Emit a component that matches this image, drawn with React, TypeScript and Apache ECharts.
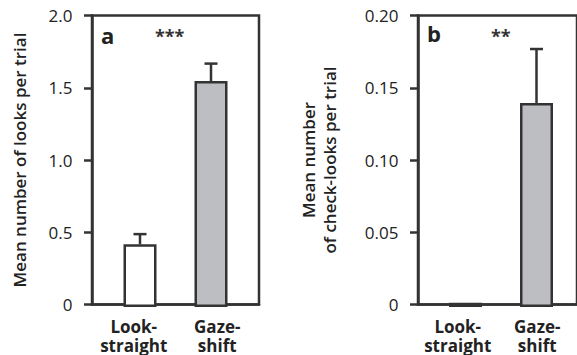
import React, { useEffect, useRef } from "react";
import * as echarts from "echarts";

const categories = ["Look-\nstraight", "Gaze-\nshift"];
const looksMean = [0.43, 1.55];
const looksSE = [0.07, 0.12];
const checkMean = [0.003, 0.14];
const checkSE = [0, 0.037];
const looksTicks = { min: 0, max: 2, interval: 0.5 };
const checkTicks = { min: 0, max: 0.2, interval: 0.05 };
const barFills = ["#ffffff", "#bdbec1"];
const panelLetters = ["a", "b"];
const stars = ["***", "**"];

const INK = "#333333";
const FONT = "'Open Sans', 'DejaVu Sans', sans-serif";

export default function App() {
  const ref = useRef<HTMLDivElement>(null);
  useEffect(() => {
    document.body.style.margin = "0";
    const chart = echarts.init(ref.current!, null, { renderer: "svg" });

    const top = 15.5;
    const height = 291.5;
    const frameGrids = [
      { left: 92, top, width: 167, height, show: true, borderColor: INK, borderWidth: 2.5, backgroundColor: "transparent" },
      { left: 418, top, width: 172, height, show: true, borderColor: INK, borderWidth: 2.5, backgroundColor: "transparent" },
    ];
    const barGrids = [
      { left: 104.5, top, width: 142, height },
      { left: 430, top, width: 142, height },
    ];

    const frameX = (gi: number) => ({
      type: "category",
      gridIndex: gi,
      data: categories,
      axisLine: { show: true, lineStyle: { color: INK, width: 2.5 } },
      axisTick: { show: false },
      axisLabel: {
        interval: 0,
        hideOverlap: false,
        color: "#222",
        fontFamily: FONT,
        fontWeight: "bold",
        fontSize: 17,
        lineHeight: 19,
        margin: 12.5,
      },
    });
    const barX = (gi: number) => ({
      type: "category",
      gridIndex: gi,
      data: categories,
      show: false,
    });
    const frameY = (gi: number, t: any, name: string, digits: number, gap: number) => ({
      type: "value",
      gridIndex: gi,
      min: t.min,
      max: t.max,
      interval: t.interval,
      name,
      nameLocation: "middle",
      nameGap: gap,
      nameTextStyle: {
        color: "#222",
        fontFamily: FONT,
        fontWeight: 600,
        fontSize: 17,
        lineHeight: 21,
      },
      splitLine: { show: false },
      axisLine: { show: true, lineStyle: { color: INK, width: 2.5 } },
      axisTick: { show: true, length: 8, lineStyle: { color: INK, width: 2.5 } },
      axisLabel: {
        color: "#222",
        fontFamily: FONT,
        fontSize: 17,
        margin: 19.5,
        formatter: (v: number) => (v === 0 ? "0" : v.toFixed(digits)),
      },
    });
    const barY = (gi: number, t: any) => ({
      type: "value",
      gridIndex: gi,
      min: t.min,
      max: t.max,
      interval: t.interval,
      show: false,
      splitLine: { show: false },
    });

    const barSeries = (ai: number, means: number[]) => ({
      type: "bar",
      xAxisIndex: ai,
      yAxisIndex: ai,
      barWidth: 33,
      z: 3,
      data: means.map((m, i) => ({
        value: m,
        itemStyle: {
          color: m < 0.01 ? INK : barFills[i],
          borderColor: INK,
          borderWidth: 2.5,
        },
      })),
    });
    const errSeries = (ai: number, means: number[], se: number[]) => ({
      type: "custom",
      xAxisIndex: ai,
      yAxisIndex: ai,
      z: 4,
      data: means.map((m, i) => [i, m, m + se[i]]).filter((d) => d[2] > d[1]),
      renderItem: (params: any, api: any) => {
        const i = api.value(0);
        const base = api.coord([i, api.value(1)]);
        const tip = api.coord([i, api.value(2)]);
        const style = { stroke: INK, lineWidth: 2.5 };
        return {
          type: "group",
          children: [
            { type: "line", shape: { x1: tip[0], y1: base[1], x2: tip[0], y2: tip[1] }, style },
            { type: "line", shape: { x1: tip[0] - 6.5, y1: tip[1], x2: tip[0] + 6.5, y2: tip[1] }, style },
          ],
        };
      },
    });

    chart.setOption({
      animation: false,
      backgroundColor: "#ffffff",
      grid: [frameGrids[0], barGrids[0], frameGrids[1], barGrids[1]],
      xAxis: [frameX(0), barX(1), frameX(2), barX(3)],
      yAxis: [
        frameY(0, looksTicks, "Mean number of looks per trial", 1, 62),
        barY(1, looksTicks),
        frameY(2, checkTicks, "Mean number\nof check-looks per trial", 2, 78),
        barY(3, checkTicks),
      ],
      series: [
        barSeries(1, looksMean),
        errSeries(1, looksMean, looksSE),
        barSeries(3, checkMean),
        errSeries(3, checkMean, checkSE),
      ],
      graphic: [
        { type: "text", left: 101, top: 24, style: { text: panelLetters[0], font: `bold 22px ${FONT}`, fill: "#222" } },
        { type: "text", left: 427, top: 22, style: { text: panelLetters[1], font: `bold 22px ${FONT}`, fill: "#222" } },
        { type: "text", left: 155, top: 27, style: { text: stars[0], font: `bold 18px ${FONT}`, fill: "#333" } },
        { type: "text", left: 491, top: 27, style: { text: stars[1], font: `bold 18px ${FONT}`, fill: "#333" } },
      ],
    });
    return () => chart.dispose();
  }, []);
  return <div ref={ref} style={{ width: 577, height: 355 }} />;
}
